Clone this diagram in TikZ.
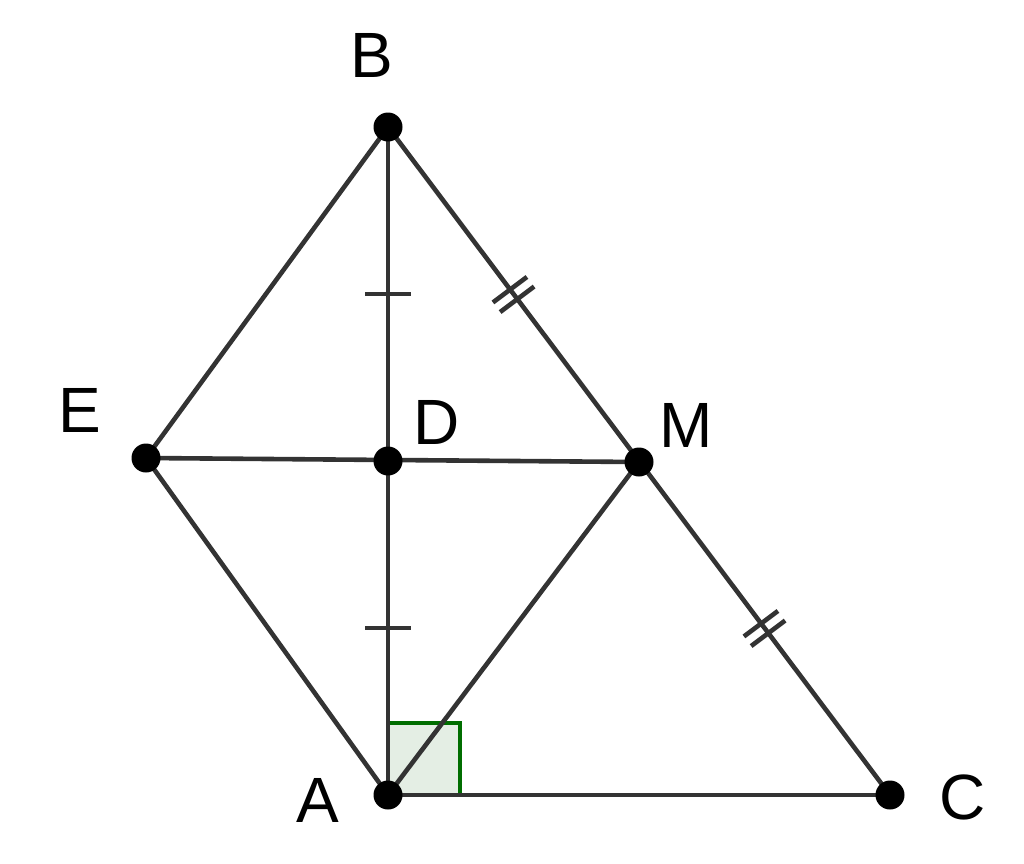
\documentclass[tikz,border=0pt]{standalone}
\usepackage{fontspec}
\setmainfont{Liberation Sans}
\usetikzlibrary{calc}
\definecolor{seg}{RGB}{51,51,51}
\definecolor{rgreen}{RGB}{0,110,0}
\definecolor{rfill}{RGB}{228,238,228}
\begin{document}
\begin{tikzpicture}[x=1pt,y=-1pt,
  segline/.style={draw=seg,line width=4.6pt},
  tickmark/.style={draw=seg,line width=4.6pt},
  ptdot/.style={circle,fill=black,inner sep=0pt,minimum size=29pt},
  lbl/.style={font=\fontsize{64}{64}\selectfont,inner sep=0pt}]
\useasboundingbox (0,0) rectangle (1024,863);
\coordinate (B) at (388,127);
\coordinate (A) at (388,795);
\coordinate (C) at (890,795);
\coordinate (M) at (639,462);
\coordinate (D) at (388,461);
\coordinate (E) at (146,458);
% right angle
\filldraw[fill=rfill,draw=rgreen,line width=4pt] (A) rectangle ($(A)+(72,-72)$);
% segments
\draw[segline] (B) -- (A);
\draw[segline] (A) -- (C);
\draw[segline] (B) -- (C);
\draw[segline] (E) -- (B);
\draw[segline] (E) -- (A);
\draw[segline] (E) -- (M);
\draw[segline] (A) -- (M);
% single ticks
\draw[tickmark] ($(B)!0.5!(D)+(-23,0)$) -- ($(B)!0.5!(D)+(23,0)$);
\draw[tickmark] ($(D)!0.5!(A)+(-23,0)$) -- ($(D)!0.5!(A)+(23,0)$);
% double ticks
\foreach \s in {-6,6}{
  \draw[tickmark] ($(B)!0.5!(M)+(0.6*\s,0.8*\s)+(-17,12.75)$) -- ($(B)!0.5!(M)+(0.6*\s,0.8*\s)+(17,-12.75)$);
  \draw[tickmark] ($(M)!0.5!(C)+(0.6*\s,0.8*\s)+(-17,12.75)$) -- ($(M)!0.5!(C)+(0.6*\s,0.8*\s)+(17,-12.75)$);
}
% points
\node[ptdot] (pB) at (B) {};
\node[ptdot] (pA) at (A) {};
\node[ptdot] (pC) at (C) {};
\node[ptdot] (pM) at (M) {};
\node[ptdot] (pD) at (D) {};
\node[ptdot] (pE) at (E) {};
% labels
\node[lbl] (lB) at (372,55) {B};
\node[lbl] (lE) at (80,410) {E};
\node[lbl] (lD) at (437,422) {D};
\node[lbl] (lM) at (686,425) {M};
\node[lbl] (lA) at (318,800) {A};
\node[lbl] (lC) at (963,797) {C};
\end{tikzpicture}
\end{document}
